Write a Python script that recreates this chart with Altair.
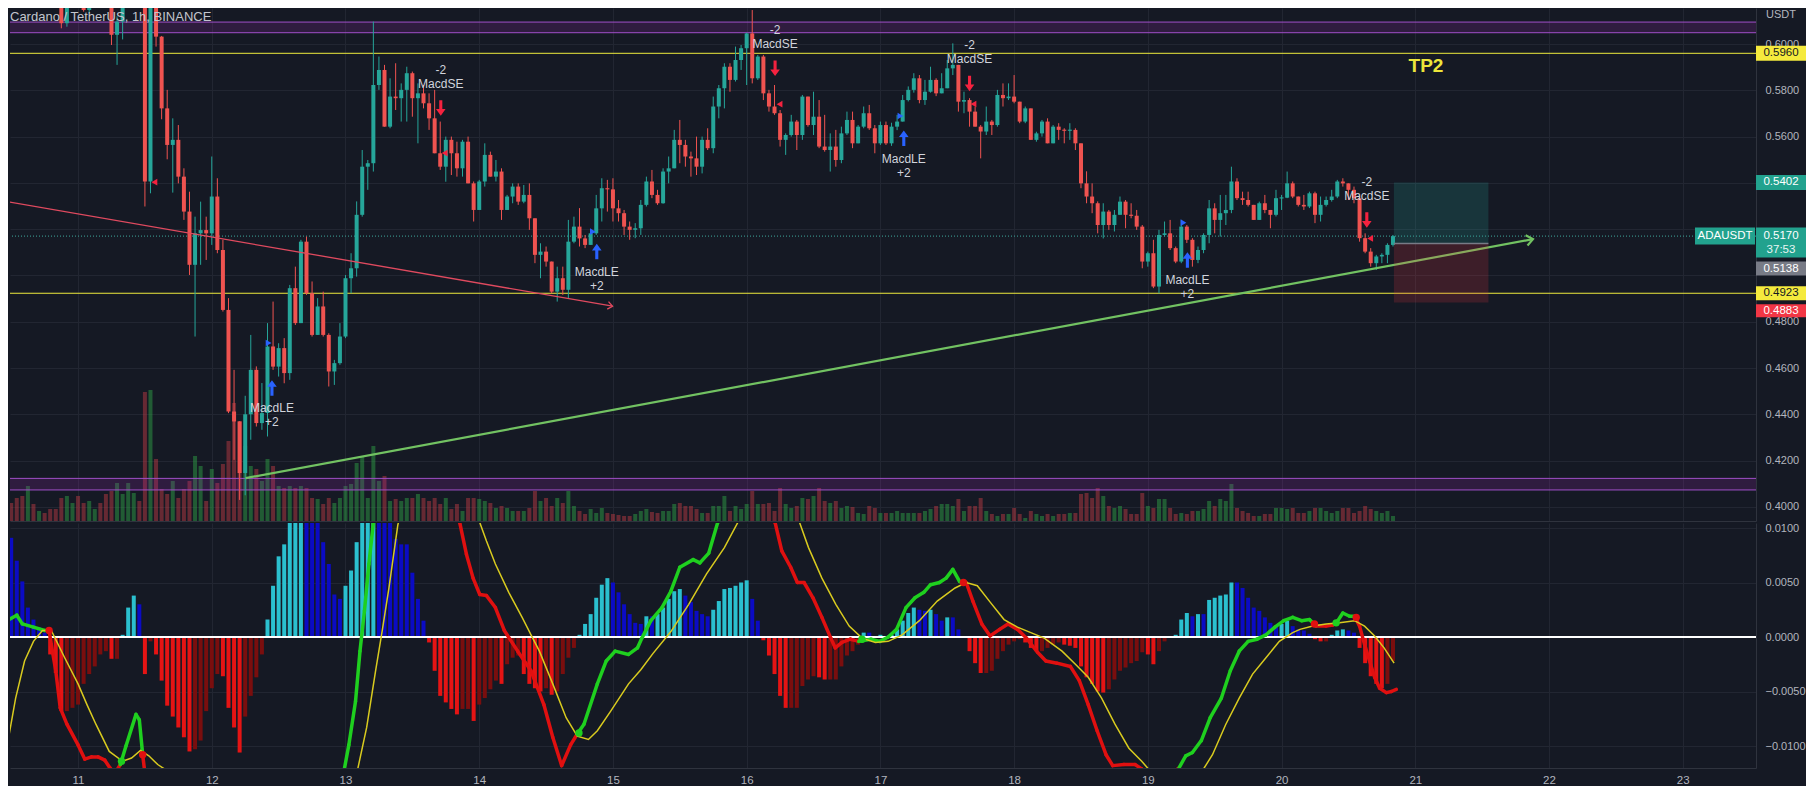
import altair as alt
import pandas as pd
import numpy as np

# ------------------------------------------------------------------ data
FIRST_HOUR = -12          # hour index relative to the 11th, 00:00
FIRST_OPEN = 0.636

close = [
    0.634, 0.631, 0.629, 0.632, 0.630, 0.633, 0.631, 0.628, 0.626, 0.609, 0.621, 0.625,
    0.623, 0.6147, 0.621, 0.624, 0.622, 0.621, 0.604, 0.6097, 0.622, 0.626, 0.628, 0.627,
    0.5406, 0.6205, 0.6032, 0.5722, 0.5564, 0.5586, 0.5427, 0.5276, 0.5046, 0.5182, 0.5196, 0.5182,
    0.5341, 0.511, 0.4851, 0.4412, 0.4369, 0.4146, 0.440, 0.4592, 0.4362, 0.4405, 0.4693, 0.4606,
    0.4686, 0.4578, 0.4945, 0.4794, 0.5146, 0.4923, 0.4743, 0.4866, 0.4743, 0.4585, 0.4621, 0.4736,
    0.4988, 0.5031, 0.5262, 0.547, 0.5485, 0.5823, 0.5888, 0.5643, 0.5773, 0.5766, 0.5802, 0.5874,
    0.5766, 0.5787, 0.5744, 0.5679, 0.5528, 0.547, 0.5586, 0.5528, 0.5463, 0.5578, 0.5398, 0.5283,
    0.5406, 0.5521, 0.5427, 0.5449, 0.5283, 0.5341, 0.5384, 0.5319, 0.5348, 0.5247, 0.5089, 0.5103,
    0.506, 0.493, 0.4988, 0.4938, 0.5146, 0.5211, 0.516, 0.5132, 0.5182, 0.529, 0.5377, 0.5372,
    0.529, 0.5269, 0.5211, 0.5197, 0.5204, 0.5305, 0.5406, 0.5348, 0.5312, 0.5449, 0.5463, 0.5586,
    0.5564, 0.5514, 0.5506, 0.547, 0.5586, 0.555, 0.573, 0.5809, 0.5902, 0.5845, 0.5931, 0.5982,
    0.6046, 0.5852, 0.5946, 0.5787, 0.573, 0.5701, 0.5586, 0.5607, 0.5665, 0.5607, 0.5773, 0.565,
    0.5686, 0.5557, 0.5542, 0.5557, 0.5499, 0.5614, 0.5672, 0.5571, 0.5643, 0.5701, 0.5636, 0.5571,
    0.565, 0.5571, 0.5643, 0.5665, 0.5758, 0.5802, 0.5852, 0.5758, 0.5794, 0.5845, 0.5787, 0.5809,
    0.5895, 0.591, 0.5751, 0.5758, 0.5708, 0.5643, 0.5622, 0.5665, 0.565, 0.578, 0.5766, 0.5773,
    0.5751, 0.5665, 0.5722, 0.5586, 0.5614, 0.5665, 0.5571, 0.5643, 0.5629, 0.5626, 0.5629, 0.5571,
    0.5398, 0.5341, 0.5312, 0.5218, 0.5276, 0.5218, 0.5262, 0.5319, 0.5262, 0.5258, 0.5211, 0.506,
    0.5096, 0.4952, 0.5175, 0.5182, 0.5118, 0.506, 0.5211, 0.5154, 0.5067, 0.511, 0.5175, 0.529,
    0.524, 0.5269, 0.5283, 0.5406, 0.5334, 0.5326, 0.5305, 0.524, 0.5312, 0.5283, 0.5262, 0.5334,
    0.5336, 0.5398, 0.5341, 0.5305, 0.5298, 0.5355, 0.5262, 0.5305, 0.5326, 0.5341, 0.5406, 0.5398,
    0.537, 0.5334, 0.5161, 0.5103, 0.5053, 0.5082, 0.5089, 0.5132, 0.517,
]
high = [
    0.638, 0.636, 0.634, 0.635, 0.634, 0.636, 0.635, 0.633, 0.630, 0.628, 0.624, 0.630,
    0.628, 0.626, 0.624, 0.628, 0.626, 0.625, 0.623, 0.612, 0.625, 0.632, 0.633, 0.632,
    0.630, 0.624, 0.622, 0.6035, 0.5802, 0.5679, 0.565, 0.5463, 0.5362, 0.5254, 0.5319, 0.5254,
    0.5514, 0.542, 0.5154, 0.4902, 0.4592, 0.437, 0.448, 0.4743, 0.4607, 0.4535, 0.4794, 0.4887,
    0.4707, 0.4729, 0.4959, 0.5038, 0.5154, 0.5168, 0.4974, 0.4902, 0.493, 0.475, 0.4635, 0.4794,
    0.5002, 0.5096, 0.532, 0.5542, 0.5499, 0.6097, 0.5946, 0.591, 0.5852, 0.5917, 0.583, 0.5902,
    0.5881, 0.583, 0.5823, 0.5787, 0.5802, 0.5665, 0.560, 0.560, 0.5578, 0.5586, 0.560, 0.5406,
    0.5413, 0.5571, 0.5535, 0.5499, 0.5463, 0.5348, 0.5398, 0.5398, 0.5391, 0.5398, 0.5247, 0.5139,
    0.5125, 0.506, 0.5038, 0.5038, 0.524, 0.5254, 0.5291, 0.5175, 0.5197, 0.5348, 0.542, 0.5413,
    0.542, 0.5326, 0.5283, 0.5233, 0.5226, 0.5326, 0.5427, 0.5456, 0.537, 0.5463, 0.5514, 0.5629,
    0.5672, 0.5586, 0.5535, 0.560, 0.560, 0.5636, 0.5773, 0.5823, 0.5917, 0.5917, 0.5989, 0.5996,
    0.6049, 0.6147, 0.5953, 0.5953, 0.5802, 0.5823, 0.5715, 0.5614, 0.5694, 0.5672, 0.578, 0.5773,
    0.5794, 0.5758, 0.5694, 0.5614, 0.5629, 0.5643, 0.5708, 0.5708, 0.565, 0.573, 0.5737, 0.565,
    0.5665, 0.5665, 0.566, 0.5694, 0.578, 0.5817, 0.5874, 0.5866, 0.5845, 0.5902, 0.5852, 0.5874,
    0.5931, 0.6003, 0.591, 0.5794, 0.5766, 0.573, 0.565, 0.573, 0.5672, 0.5802, 0.583, 0.583,
    0.5866, 0.5751, 0.573, 0.5722, 0.5621, 0.5672, 0.5679, 0.565, 0.5658, 0.5636, 0.5658, 0.5636,
    0.5571, 0.545, 0.5398, 0.532, 0.5312, 0.5283, 0.5283, 0.5341, 0.5326, 0.5312, 0.5283, 0.5218,
    0.5103, 0.5154, 0.5197, 0.5233, 0.524, 0.5125, 0.524, 0.5218, 0.5161, 0.5125, 0.5182, 0.5326,
    0.5312, 0.5348, 0.5348, 0.547, 0.542, 0.5362, 0.5362, 0.5305, 0.5319, 0.5348, 0.5283, 0.537,
    0.5348, 0.5449, 0.5406, 0.5341, 0.5348, 0.5362, 0.5362, 0.5341, 0.5341, 0.537, 0.5413, 0.542,
    0.5398, 0.5384, 0.5341, 0.5182, 0.5118, 0.5089, 0.5096, 0.5139, 0.5175,
]
low = [
    0.628, 0.627, 0.625, 0.626, 0.626, 0.628, 0.627, 0.624, 0.621, 0.6068, 0.6075, 0.620,
    0.620, 0.614, 0.6135, 0.620, 0.618, 0.617, 0.5996, 0.591, 0.602, 0.620, 0.622, 0.621,
    0.5298, 0.5355, 0.5989, 0.5675, 0.5502, 0.5358, 0.5398, 0.524, 0.5002, 0.4736, 0.5046, 0.5067,
    0.5132, 0.5096, 0.4844, 0.4405, 0.4203, 0.403, 0.405, 0.429, 0.4347, 0.4333, 0.4304, 0.4592,
    0.4563, 0.4534, 0.4549, 0.4786, 0.4794, 0.4916, 0.4736, 0.4743, 0.4736, 0.452, 0.4527, 0.4614,
    0.4729, 0.4923, 0.4995, 0.5254, 0.537, 0.5449, 0.5802, 0.5643, 0.5636, 0.5715, 0.5665, 0.5665,
    0.5686, 0.5571, 0.5722, 0.5629, 0.5528, 0.5456, 0.5405, 0.5434, 0.5427, 0.5427, 0.5398, 0.5233,
    0.5283, 0.5384, 0.5427, 0.5406, 0.524, 0.5283, 0.5312, 0.5305, 0.5312, 0.5197, 0.5053, 0.4988,
    0.5038, 0.4923, 0.4887, 0.4916, 0.4902, 0.5139, 0.5125, 0.5118, 0.5132, 0.5175, 0.5233, 0.5276,
    0.5233, 0.5233, 0.5175, 0.5154, 0.5161, 0.5175, 0.5298, 0.5334, 0.5305, 0.531, 0.5398, 0.5463,
    0.5485, 0.547, 0.5427, 0.5434, 0.5441, 0.5542, 0.5528, 0.5679, 0.5722, 0.5794, 0.5838, 0.5888,
    0.5823, 0.583, 0.5845, 0.5758, 0.5708, 0.5694, 0.5557, 0.5521, 0.560, 0.5542, 0.5586, 0.5643,
    0.5607, 0.555, 0.5535, 0.5449, 0.547, 0.5485, 0.5607, 0.555, 0.5571, 0.5636, 0.5629, 0.5528,
    0.5564, 0.5564, 0.556, 0.5628, 0.5665, 0.5752, 0.579, 0.5744, 0.5737, 0.579, 0.5775, 0.5787,
    0.5809, 0.5866, 0.5708, 0.5701, 0.5643, 0.5643, 0.5506, 0.5607, 0.5607, 0.5643, 0.573, 0.5758,
    0.5744, 0.5658, 0.5658, 0.5586, 0.5578, 0.560, 0.5571, 0.5571, 0.5586, 0.5571, 0.5586, 0.5542,
    0.5377, 0.5312, 0.5269, 0.5182, 0.516, 0.5197, 0.519, 0.5262, 0.5204, 0.5247, 0.5197, 0.5031,
    0.5038, 0.4945, 0.4923, 0.5168, 0.511, 0.5053, 0.5053, 0.514, 0.5038, 0.5053, 0.5096, 0.5139,
    0.5182, 0.5168, 0.5218, 0.5269, 0.5326, 0.5305, 0.5298, 0.524, 0.524, 0.5269, 0.5204, 0.5255,
    0.5283, 0.5334, 0.5334, 0.5298, 0.5283, 0.5291, 0.5226, 0.5233, 0.5298, 0.5319, 0.5334, 0.5384,
    0.5326, 0.5312, 0.5146, 0.5096, 0.5038, 0.5024, 0.5053, 0.5053, 0.5125,
]
volume = [
    18, 23, 25, 35, 17, 10, 8, 12, 12, 23, 25, 18,
    25, 18, 20, 12, 18, 27, 30, 38, 27, 38, 28, 20,
    129, 131, 62, 32, 27, 40, 23, 32, 40, 65, 55, 20,
    52, 38, 57, 80, 118, 100, 75, 55, 52, 40, 62, 55,
    35, 33, 35, 33, 35, 33, 23, 22, 17, 23, 18, 23,
    35, 37, 58, 65, 23, 75, 40, 45, 20, 22, 20, 23,
    23, 27, 23, 20, 23, 17, 23, 12, 17, 10, 23, 23,
    22, 20, 18, 13, 15, 13, 10, 10, 10, 13, 30, 20,
    23, 15, 23, 18, 30, 15, 10, 7, 12, 8, 13, 8,
    7, 6, 5, 5, 7, 10, 12, 9, 8, 10, 10, 17,
    18, 15, 15, 12, 8, 8, 15, 15, 25, 10, 15, 12,
    17, 30, 17, 17, 18, 10, 33, 17, 13, 15, 23, 22,
    25, 33, 20, 18, 20, 13, 15, 14, 8, 7, 15, 13,
    8, 8, 8, 10, 8, 8, 8, 8, 10, 12, 15, 17,
    17, 15, 22, 10, 15, 15, 23, 10, 7, 5, 7, 7,
    13, 7, 3, 10, 7, 5, 7, 5, 7, 7, 8, 8,
    27, 28, 23, 33, 25, 15, 13, 15, 12, 7, 7, 28,
    15, 13, 22, 22, 13, 7, 8, 7, 10, 10, 12, 20,
    15, 22, 20, 37, 13, 10, 8, 5, 5, 7, 7, 13,
    13, 12, 13, 8, 8, 10, 13, 13, 10, 8, 10, 13,
    13, 8, 10, 15, 12, 10, 8, 10, 5,
]
macd_hist = [
    0.0091, 0.0070, 0.0051, 0.0027, 0.0016, 0.0009, 0.0004, -0.0016, -0.0033, -0.0068, -0.0068, -0.0065,
    -0.0062, -0.0043, -0.0034, -0.0027, -0.0016, -0.0013, -0.0020, -0.0020, 0.0002, 0.0027, 0.0038, 0.0030,
    -0.0034, -0.0004, -0.0016, -0.0040, -0.0063, -0.0073, -0.0083, -0.0092, -0.0105, -0.0103, -0.0095, -0.0068,
    -0.0047, -0.0034, -0.0036, -0.0065, -0.0083, -0.0106, -0.0073, -0.0054, -0.0037, -0.0016, 0.0016, 0.0047,
    0.0074, 0.0085, 0.0115, 0.0120, 0.0125, 0.0120, 0.0115, 0.0110, 0.0087, 0.0067, 0.0039, 0.0035,
    0.0047, 0.0061, 0.0087, 0.0110, 0.0115, 0.0130, 0.0130, 0.0120, 0.0115, 0.0090, 0.0085, 0.0085,
    0.0059, 0.0035, 0.0015, -0.0005, -0.0031, -0.0054, -0.0060, -0.0066, -0.0071, -0.0066, -0.0066, -0.0077,
    -0.0062, -0.0056, -0.0048, -0.0040, -0.0043, -0.0025, -0.0019, -0.0017, -0.0034, -0.0043, -0.0047, -0.0050,
    -0.0047, -0.0053, -0.0050, -0.0034, -0.0019, -0.0010, 0.0002, 0.0012, 0.0021, 0.0036, 0.0048, 0.0054,
    0.0050, 0.0041, 0.0030, 0.0021, 0.0013, 0.0012, 0.0019, 0.0019, 0.0021, 0.0027, 0.0035, 0.0042,
    0.0044, 0.0038, 0.0032, 0.0024, 0.0021, 0.0019, 0.0025, 0.0033, 0.0044, 0.0045, 0.0047, 0.0050,
    0.0052, 0.0035, 0.0015, -0.0003, -0.0017, -0.0034, -0.0054, -0.0065, -0.0065, -0.0065, -0.0045, -0.0039,
    -0.0036, -0.0037, -0.0039, -0.0039, -0.0039, -0.0027, -0.0017, -0.0013, -0.0007, 0.0004, 0.0004, 0.0000,
    0.0002, 0.0001, 0.0002, 0.0007, 0.0015, 0.0022, 0.0027, 0.0025, 0.0024, 0.0025, 0.0021, 0.0015,
    0.0018, 0.0018, 0.0007, 0.0000, -0.0013, -0.0024, -0.0033, -0.0033, -0.0031, -0.0020, -0.0013, -0.0007,
    -0.0004, -0.0002, -0.0005, -0.0010, -0.0013, -0.0013, -0.0010, -0.0007, -0.0005, -0.0007, -0.0008, -0.0010,
    -0.0027, -0.0037, -0.0043, -0.0050, -0.0051, -0.0048, -0.0039, -0.0031, -0.0028, -0.0024, -0.0022, -0.0014,
    -0.0016, -0.0025, -0.0013, -0.0004, 0.0000, 0.0002, 0.0016, 0.0022, 0.0019, 0.0021, 0.0021, 0.0034,
    0.0036, 0.0038, 0.0039, 0.0050, 0.0050, 0.0045, 0.0036, 0.0027, 0.0024, 0.0018, 0.0013, 0.0010,
    0.0012, 0.0015, 0.0010, 0.0007, 0.0006, 0.0003, -0.0002, -0.0004, -0.0004, 0.0002, 0.0006, 0.0007,
    0.0006, 0.0004, -0.0010, -0.0024, -0.0036, -0.0043, -0.0047, -0.0043, -0.0022,
]
macd_line_h = [
    -12.7, -11, -10, -8, -6, -5.2, -4.8, -4, -3.2, -2, 0, 1.2, 2.4, 3.6, 4.8, 5.7, 6.6, 7.6, 8.6,
    10.4, 11, 11.6, 12, 14, 18, 24, 30, 36, 42, 46, 47.8, 48.6, 49.8, 50.6, 51.4, 52.2, 53, 54, 60,
    65, 68, 68.5, 69.7, 70.9, 72.1, 73.3, 74.9, 76.5, 78.9, 81.3, 83.6, 85.2, 86.8, 88.4, 89.6, 90.8,
    93.2, 94.8, 96.4, 98.8, 100.4, 101.2, 102.8, 104.8, 106.4, 108, 110.4, 111.6, 113.2, 114.8, 116,
    120, 124, 125.1, 126.3, 127.9, 129.1, 130.3, 131.9, 133.5, 135.1, 135.9, 137.1, 138.6, 140.1,
    142.3, 143.9, 145.4, 146.9, 148.6, 150.2, 151.8, 153, 154.6, 155.8, 157, 158.2, 159.4, 160.6,
    162.2, 163.7, 165.4, 166.9, 168.6, 170.2, 172.2, 173.7, 175.7, 178.1, 179.7, 181.3, 182.9, 184.5,
    185.7, 187.7, 189.7, 190.9, 192, 195, 197.6, 198.8, 200, 201.6, 203.2, 205.2, 206.8, 208.4, 210,
    211.6, 213.2, 214.8, 216.4, 218, 219.6, 221, 222.2, 224, 225.2, 226.1, 227, 228.2, 229.1, 230,
    230.9, 231.8, 232.7, 233.6, 234.8, 235.7, 236.6,
]
macd_line_v = [
    0.0015, 0.0020, 0.0012, 0.0009, 0.0006, 0.0006, -0.0007, -0.0031, -0.0065, -0.0080, -0.0099,
    -0.0112, -0.0110, -0.0110, -0.0113, -0.0120, -0.0125, -0.0117, -0.0100, -0.0071, -0.0076, -0.0108,
    -0.0125, -0.0145, -0.018, -0.021, -0.022, -0.020, -0.017, -0.014, -0.0121, -0.0099, -0.0059,
    -0.0013, 0.0024, 0.0067, 0.0105, 0.013, 0.017, 0.015, 0.0115, 0.0105, 0.0076, 0.0054, 0.0039,
    0.0038, 0.0027, 0.0006, -0.0013, -0.0031, -0.0062, -0.0092, -0.0118, -0.0099, -0.0089, -0.0080,
    -0.0043, -0.0022, -0.0013, -0.0016, -0.0010, -0.0001, 0.0015, 0.0027, 0.0042, 0.0064, 0.0071,
    0.0068, 0.0077, 0.0105, 0.012, 0.014, 0.012, 0.0105, 0.0079, 0.0064, 0.0050, 0.0050, 0.0036,
    0.0018, -0.0001, -0.0010, -0.0005, -0.0002, -0.0004, -0.0002, -0.0004, 0.0000, 0.0007, 0.0027,
    0.0036, 0.0041, 0.0048, 0.0050, 0.0054, 0.0062, 0.0051, 0.0050, 0.0033, 0.0012, 0.0001, 0.0007,
    0.0012, 0.0007, -0.0001, -0.0014, -0.0022, -0.0024, -0.0027, -0.0040, -0.0062, -0.0086, -0.0108,
    -0.0118, -0.0117, -0.0117, -0.0121, -0.0128, -0.013, -0.0120, -0.0109, -0.0106, -0.0095, -0.0074,
    -0.0056, -0.0031, -0.0013, -0.0004, -0.0002, 0.0002, 0.0009, 0.0015, 0.0018, 0.0015, 0.0016,
    0.0010, 0.0010, 0.0011, 0.0015, 0.0022, 0.0019, 0.0019, 0.0010, -0.0007, -0.0022, -0.0037,
    -0.0047, -0.0051, -0.0050, -0.0048,
]
signal_h = [
    -12.7, -11.2, -9.6, -8, -6.4, -4.8, -2.4, 0, 1.6, 3.2, 5.6, 8, 9.6, 11.2, 12.7, 14.3, 15.5, 18,
    25, 32, 40, 46, 50.2, 51.8, 53.4, 54.6, 55.8, 57.4, 58, 62, 66, 70, 72.1, 73.3, 74.9, 77.3, 79.7,
    81.3, 82.8, 85.2, 87.6, 89.6, 91.6, 93.2, 95.6, 98.8, 101, 103.2, 106.4, 109.6, 112.8, 116, 118.4,
    122, 126, 129.5, 131.1, 133.5, 136, 138.4, 140.7, 143.1, 145.4, 147.9, 151, 154.2, 157.4, 159.4,
    161.4, 163.7, 166.2, 168.6, 171, 173.4, 176.6, 179, 181.3, 183.7, 186.1, 188.6, 190.9, 192.1,
    195, 199, 202, 203.6, 206, 208.4, 210.8, 213.2, 215.6, 218, 219.3, 221.6, 224, 226.4, 229.1,
    230.9, 232.7, 234.4, 236.2,
]
signal_v = [
    -0.0099, -0.0056, -0.0022, -0.0004, 0.0006, 0.0006, -0.0019, -0.0043, -0.0062, -0.0080, -0.0105,
    -0.0114, -0.0111, -0.0104, -0.0109, -0.0117, -0.0121, -0.013, -0.016, -0.018, -0.017, -0.014,
    -0.0121, -0.0083, -0.0031, 0.0006, 0.0045, 0.0103, 0.0115, 0.013, 0.015, 0.013, 0.0105, 0.0088,
    0.0067, 0.0041, 0.0018, 0.0002, -0.0013, -0.0043, -0.0074, -0.0091, -0.0094, -0.0086, -0.0068,
    -0.0043, -0.0030, -0.0015, 0.0005, 0.0030, 0.0058, 0.0082, 0.0105, 0.012, 0.012, 0.0105, 0.0082,
    0.0054, 0.0030, 0.0010, -0.0001, -0.0005, -0.0004, 0.0002, 0.0015, 0.0033, 0.0045, 0.0050,
    0.0047, 0.0032, 0.0016, 0.0009, 0.0004, -0.0001, -0.0013, -0.0025, -0.0037, -0.0056, -0.0080,
    -0.0102, -0.0114, -0.0121, -0.0128, -0.0128, -0.0121, -0.0108, -0.0080, -0.0056, -0.0034,
    -0.0019, -0.0004, 0.0004, 0.0007, 0.0010, 0.0012, 0.0013, 0.0015, 0.0010, 0.0001, -0.0010,
    -0.0024,
]
# hours where the MACD line is above its signal (line drawn green)
macd_above_signal = [(-13, -5.2), (7.8, 11.6), (33.5, 62.7), (89.9, 123.0),
                     (140.7, 158.9), (196.5, 221.9), (225.8, 229.4)]
cross_h = [-5.2, 7.8, 11.6, 89.9, 140.7, 158.9, 221.9, 225.8, 229.4]
cross_v = [0.0006, -0.0114, -0.0108, -0.0088, -0.0002, 0.0050, 0.0012, 0.0013, 0.0018]
cross_up = [False, True, False, True, True, False, False, True, False]

zones = {"lo": [0.6049, 0.4073], "hi": [0.6095, 0.4123]}
yellow_levels = [0.5960, 0.4923]
last_price = 0.5170
red_trend = {"t1": [10.469], "p1": [0.5319], "t2": [14.997], "p2": [0.4867]}
green_trend = {"t1": [12.253], "p1": [0.4124], "t2": [21.88], "p2": [0.5157]}
pos_t = [20.84, 21.547]
pos_target, pos_entry, pos_stop = 0.5402, 0.5138, 0.4883

le_arrow_h = [34.8, 93.1, 148.2, 199.1]
le_arrow_p = [0.4514, 0.5103, 0.5593, 0.5067]
le_tri_h = [34.2, 92.4, 147.6, 198.4]
le_tri_p = [0.4708, 0.5189, 0.5689, 0.5228]
se_arrow_h = [65.1, 125.1, 160.0, 231.3]
se_arrow_p = [0.5724, 0.5895, 0.5830, 0.5240]
se_tri_h = [13.7, 65.8, 125.9, 160.7, 231.9]
se_tri_p = [0.5403, 0.5529, 0.5740, 0.5741, 0.5160]

TITLE = "Cardano / TetherUS, 1h, BINANCE"

# ------------------------------------------------------------------ style
BG = "#151924"
GRID = "#222632"
SEP = "#2f333e"
TXT = "#b2b5be"
FONT = "Liberation Sans"
UP, DOWN = "#26a69a", "#ef5350"
VUP, VDOWN = "#2e9e44", "#b83a42"
W, H_PRICE, H_MACD = 1746, 513, 245
X_DOMAIN = [10.5285, 23.5105]
P_DOMAIN = [0.39388, 0.61558]
M_DOMAIN = [-0.012018, 0.010459]

def tday(h):
    return 11 + h / 24.0

# ------------------------------------------------------------------ frames
n = len(close)
hours = [FIRST_HOUR + i for i in range(n)]
opens = [FIRST_OPEN] + close[:-1]
cdf = pd.DataFrame({"t": [tday(h) for h in hours], "open": opens, "close": close,
                    "high": high, "low": low, "vol": volume})
cdf["high"] = cdf[["high", "open", "close"]].max(axis=1)
cdf["low"] = cdf[["low", "open", "close"]].min(axis=1)
up = cdf["close"] >= cdf["open"]
cdf["col"] = np.where(up, UP, DOWN)
cdf["vcol"] = np.where(up, VUP, VDOWN)
mid = (cdf["open"] + cdf["close"]) / 2
btop = cdf[["open", "close"]].max(axis=1)
bbot = cdf[["open", "close"]].min(axis=1)
thin = (btop - bbot) < 0.0005
cdf["btop"] = np.where(thin, mid + 0.00025, btop)
cdf["bbot"] = np.where(thin, mid - 0.00025, bbot)

hcols = []
for i, v in enumerate(macd_hist):
    prev = macd_hist[i - 1] if i > 0 else v + 1
    if v >= 0:
        hcols.append("#2bc0cf" if v > prev else "#0b0bc4")
    else:
        hcols.append("#e51414" if v < prev else "#7a0e0e")
hdf = pd.DataFrame({"t": [tday(h) for h in hours], "v": macd_hist, "col": hcols})

def is_green(h):
    return any(a <= h <= b for a, b in macd_above_signal)

seg = []
for i in range(len(macd_line_h) - 1):
    hm = (macd_line_h[i] + macd_line_h[i + 1]) / 2
    seg.append({"t1": tday(macd_line_h[i]), "v1": macd_line_v[i],
                "t2": tday(macd_line_h[i + 1]), "v2": macd_line_v[i + 1],
                "col": "#1fd01f" if is_green(hm) else "#e01010"})
segdf = pd.DataFrame(seg)
sigdf = pd.DataFrame({"t": [tday(h) for h in signal_h], "v": signal_v})
crossdf = pd.DataFrame({"t": [tday(h) for h in cross_h], "v": cross_v,
                        "col": ["#1fd01f" if u else "#e01010" for u in cross_up]})

# ------------------------------------------------------------------ scales / axes
xs = alt.Scale(domain=X_DOMAIN, nice=False, zero=False)
ps = alt.Scale(domain=P_DOMAIN, nice=False, zero=False)
ms = alt.Scale(domain=M_DOMAIN, nice=False, zero=False)
day_ticks = list(range(11, 24))
price_ticks = [round(0.40 + 0.02 * i, 2) for i in range(11)]
macd_ticks = [-0.01, -0.005, 0.0, 0.005, 0.01]
# labels hidden behind the price tags in the reference
HIDE = "abs(datum.value-0.52)<1e-6 || abs(datum.value-0.5)<1e-6 || abs(datum.value-0.54)<1e-6 ? '' : datum.label"

x_axis_top = alt.Axis(values=day_ticks, labels=False, ticks=False, domain=True,
                      domainColor=SEP, grid=True, gridColor=GRID, title=None)
x_axis_bot = alt.Axis(values=day_ticks, format="d", labelColor=TXT, labelFontSize=11.5,
                      labelFont=FONT, labelPadding=6, ticks=False, tickSize=0,
                      domain=True, domainColor=SEP, grid=True, gridColor=GRID,
                      title=None, labelFlush=False)
p_axis = alt.Axis(orient="right", values=price_ticks, format=".4f", labelColor=TXT,
                  labelFontSize=11, labelFont=FONT, labelPadding=9, ticks=False,
                  tickSize=0, domainColor=SEP, grid=True, gridColor=GRID, title=None,
                  labelExpr=HIDE)
m_axis = alt.Axis(orient="right", values=macd_ticks, format=".4f", labelColor=TXT,
                  labelFontSize=11, labelFont=FONT, labelPadding=9, ticks=False,
                  tickSize=0, domainColor=SEP, grid=True, gridColor=GRID, title=None)

def PX(f):
    return alt.X(f, type="quantitative", scale=xs, axis=x_axis_top)

def PY(f):
    return alt.Y(f, type="quantitative", scale=ps, axis=p_axis)

def MX(f):
    return alt.X(f, type="quantitative", scale=xs, axis=x_axis_bot)

def MY(f):
    return alt.Y(f, type="quantitative", scale=ms, axis=m_axis)

# ------------------------------------------------------------------ price panel
vol = alt.Chart(cdf).mark_bar(size=4, opacity=0.5, clip=True).encode(
    x=PX("t"), y=alt.Y("vol:Q", scale=alt.Scale(domain=[0, 513], nice=False), axis=None),
    color=alt.Color("vcol:N", scale=None))

layers = []
zdf = pd.DataFrame(zones)
layers.append(alt.Chart(zdf).mark_rect(color="#9c27b0", opacity=0.2, clip=True).encode(
    x=alt.value(0), x2=alt.value(W), y=PY("lo"), y2="hi:Q"))
for f in ["lo", "hi"]:
    layers.append(alt.Chart(zdf).mark_rule(color="#a04fc8", strokeWidth=1, clip=True).encode(y=PY(f)))
layers.append(alt.Chart(pd.DataFrame({"p": yellow_levels})).mark_rule(
    color="#eeea3c", strokeWidth=1, clip=True).encode(y=PY("p")))
layers.append(alt.Chart(pd.DataFrame({"p": [last_price]})).mark_rule(
    color="#3fa89c", strokeWidth=1, strokeDash=[1, 2], clip=True).encode(y=PY("p")))

# candles
layers.append(alt.Chart(cdf).mark_rule(strokeWidth=1, clip=True).encode(
    x=PX("t"), y=PY("low"), y2="high:Q", color=alt.Color("col:N", scale=None)))
layers.append(alt.Chart(cdf).mark_bar(size=4, clip=True).encode(
    x=PX("t"), y=PY("bbot"), y2="btop:Q", color=alt.Color("col:N", scale=None)))

# trend lines with open arrowheads
CHEVRON = "M -1 -0.8 L 0 0 L -1 0.8"
for d, col, sw, ang, sz in [(red_trend, "#e04a5f", 1.3, 9.8, 90), (green_trend, "#72c262", 2.2, 349.5, 170)]:
    tdf = pd.DataFrame(d)
    layers.append(alt.Chart(tdf).mark_rule(color=col, strokeWidth=sw, clip=True).encode(
        x=PX("t1"), y=PY("p1"), x2="t2:Q", y2="p2:Q"))
    layers.append(alt.Chart(tdf).mark_point(shape=CHEVRON, filled=False, color=col, opacity=1,
                                            strokeWidth=sw, size=sz, angle=ang, clip=True).encode(
        x=PX("t2"), y=PY("p2")))

# long position box
pdf = pd.DataFrame({"t1": [pos_t[0]], "t2": [pos_t[1]], "tgt": [pos_target],
                    "ent": [pos_entry], "stp": [pos_stop]})
layers.append(alt.Chart(pdf).mark_rect(color="#26a69a", opacity=0.2, clip=True).encode(
    x=PX("t1"), x2="t2:Q", y=PY("ent"), y2="tgt:Q"))
layers.append(alt.Chart(pdf).mark_rect(color="#f23645", opacity=0.18, clip=True).encode(
    x=PX("t1"), x2="t2:Q", y=PY("stp"), y2="ent:Q"))
layers.append(alt.Chart(pdf).mark_rule(color="#787b86", strokeWidth=1.5, clip=True).encode(
    x=PX("t1"), x2="t2:Q", y=PY("ent")))

# strategy markers
UPARROW = "M 0 -1 L 0.62 -0.15 L 0.2 -0.15 L 0.2 1 L -0.2 1 L -0.2 -0.15 L -0.62 -0.15 Z"
DNARROW = "M 0 1 L 0.62 0.15 L 0.2 0.15 L 0.2 -1 L -0.2 -1 L -0.2 0.15 L -0.62 0.15 Z"
ledf = pd.DataFrame({"t": [tday(h) for h in le_arrow_h], "p": le_arrow_p})
ltdf = pd.DataFrame({"t": [tday(h) for h in le_tri_h], "p": le_tri_p})
sedf = pd.DataFrame({"t": [tday(h) for h in se_arrow_h], "p": se_arrow_p})
stdf = pd.DataFrame({"t": [tday(h) for h in se_tri_h], "p": se_tri_p})
BLUE, PINK, LBL = "#2962ff", "#f5223f", "#d1d4dc"
layers.append(alt.Chart(ledf).mark_point(shape=UPARROW, filled=True, color=BLUE, opacity=1,
                                         size=240, strokeWidth=0, clip=True).encode(x=PX("t"), y=PY("p")))
layers.append(alt.Chart(sedf).mark_point(shape=DNARROW, filled=True, color=PINK, opacity=1,
                                         size=240, strokeWidth=0, clip=True).encode(x=PX("t"), y=PY("p")))
layers.append(alt.Chart(ltdf).mark_point(shape="triangle-right", filled=True, color=BLUE, opacity=1,
                                         size=45, clip=True).encode(x=PX("t"), y=PY("p")))
layers.append(alt.Chart(stdf).mark_point(shape="triangle-left", filled=True, color=PINK, opacity=1,
                                         size=45, clip=True).encode(x=PX("t"), y=PY("p")))
for df_, txt, dy in [(ledf, "MacdLE", 20.5), (ledf, "+2", 34.5), (sedf, "MacdSE", -24), (sedf, "-2", -38)]:
    layers.append(alt.Chart(df_).mark_text(text=txt, font=FONT, fontSize=12, color=LBL, dy=dy,
                                           align="center", baseline="middle", clip=True).encode(
        x=PX("t"), y=PY("p")))

# texts
layers.append(alt.Chart(pd.DataFrame({"s": [TITLE]})).mark_text(
    font=FONT, fontSize=13, color="#c3c6ce", align="left", baseline="middle").encode(
    x=alt.value(0), y=alt.value(8.7), text="s:N"))
layers.append(alt.Chart(pd.DataFrame({"t": [21.08], "p": [0.5905], "s": ["TP2"]})).mark_text(
    font=FONT, fontSize=19, fontWeight="bold", color="#ede53a", align="center", baseline="middle",
    clip=True).encode(x=PX("t"), y=PY("p"), text="s:N"))
layers.append(alt.Chart(pd.DataFrame({"s": ["USDT"]})).mark_text(
    font=FONT, fontSize=11, color=TXT, align="left", baseline="middle").encode(
    x=alt.value(W + 10), y=alt.value(6.5), text="s:N"))

def tag(text, price, bg, fg, yoff=0.0, w=50, h=15, xc=W + 25):
    r = h / float(w)
    path = f"M -1 -{r:.4f} L 1 -{r:.4f} L 1 {r:.4f} L -1 {r:.4f} Z"
    d = pd.DataFrame({"p": [price], "s": [text]})
    box = alt.Chart(d).mark_point(shape=path, size=w * w, filled=True, color=bg, opacity=1,
                                  strokeWidth=0, yOffset=yoff).encode(x=alt.value(xc), y=PY("p"))
    lab = alt.Chart(d).mark_text(font=FONT, fontSize=11.5, color=fg, align="center",
                                 baseline="middle", dy=yoff).encode(
        x=alt.value(xc), y=PY("p"), text="s:N")
    return [box, lab]

layers += tag("0.5960", 0.5960, "#f5ea3d", "#131722", h=15)
layers += tag("0.5402", pos_target, "#22a28e", "#ffffff", h=15)
layers += tag("", last_price, "#22a28e", "#ffffff", yoff=6.5, h=30)[:1]
layers += tag("0.5170", last_price, "#22a28e", "#ffffff", h=0.01)[1:]
layers += tag("37:53", last_price, "#22a28e", "#e8f5f3", yoff=13.5, h=0.01)[1:]
layers += tag("0.5138", pos_entry, "#787b86", "#ffffff", yoff=25, h=14)
layers += tag("0.4923", 0.4923, "#f5ea3d", "#131722", h=14)
layers += tag("0.4883", pos_stop, "#f23645", "#ffffff", yoff=8.3, h=13)
layers += tag("ADAUSDT", last_price, "#22a28e", "#ffffff", w=60, h=17, xc=W - 31)

price_panel = alt.layer(vol, alt.layer(*layers)).resolve_scale(y="independent").properties(
    width=W, height=H_PRICE)

# ------------------------------------------------------------------ MACD panel
mlayers = []
mlayers.append(alt.Chart(hdf).mark_bar(size=4, clip=True).encode(
    x=MX("t"), y=MY("v"), y2=alt.datum(0), color=alt.Color("col:N", scale=None)))
mlayers.append(alt.Chart(pd.DataFrame({"z": [0.0]})).mark_rule(color="#ffffff", strokeWidth=2.2).encode(
    y=MY("z")))
mlayers.append(alt.Chart(segdf).mark_rule(strokeWidth=3.5, strokeCap="round", clip=True).encode(
    x=MX("t1"), y=MY("v1"), x2="t2:Q", y2="v2:Q", color=alt.Color("col:N", scale=None)))
mlayers.append(alt.Chart(sigdf).mark_line(color="#d9cb1f", strokeWidth=1.5, clip=True).encode(
    x=MX("t"), y=MY("v")))
mlayers.append(alt.Chart(crossdf).mark_circle(size=55, opacity=1, clip=True).encode(
    x=MX("t"), y=MY("v"), color=alt.Color("col:N", scale=None)))

macd_panel = alt.layer(*mlayers).properties(width=W, height=H_MACD)

chart = alt.vconcat(price_panel, macd_panel, spacing=1).properties(
    padding=0, background=BG).configure_view(strokeWidth=0)

chart.save("out.html", embed_options={"renderer": "svg", "actions": False})
